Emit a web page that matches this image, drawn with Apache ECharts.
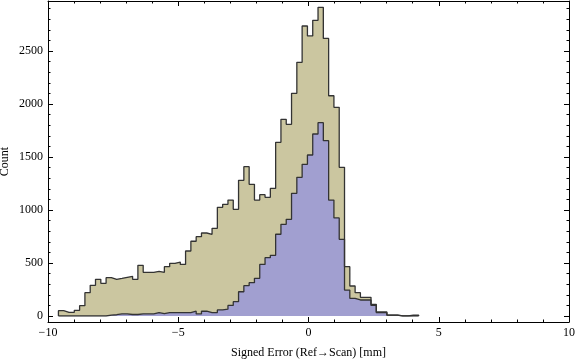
<!DOCTYPE html>
<html>
<head>
<meta charset="UTF-8">
<title>Signed Error histogram</title>
<script src="https://cdn.jsdelivr.net/npm/echarts@6/dist/echarts.min.js"></script>
<style>
  html, body { margin: 0; padding: 0; background: #fff; }
  #chart { width: 576px; height: 362px; }
</style>
</head>
<body>
<div id="chart"></div>
<script>
// 68 equal bins from the smallest to the largest error
var binStart = -9.6;
var binEnd = 4.23;

var tanCounts = [
  50, 35, 35, 54, 97, 220, 289, 346, 308, 362,
  346, 355, 365, 374, 346, 478, 412, 412, 421, 412,
  465, 497, 509, 487, 613, 705, 748, 783, 771, 827,
  1025, 1054, 1094, 1006, 1280, 1409, 1242, 1094, 1145, 1120,
  1204, 1638, 1855, 1808, 2101, 2393, 2736, 2642, 2789, 2912,
  2619, 2078, 1969, 1403, 465, 283, 220, 176, 176, 110,
  38, 38, 9, 9, 2, 2, 7, 7
];
var blueCounts = [
  0, 0, 0, 0, 0, 0, 0, 0, 0, 9,
  12, 20, 20, 14, 14, 20, 20, 20, 32, 22,
  32, 32, 32, 32, 32, 45, 20, 45, 32, 32,
  57, 64, 100, 135, 229, 286, 314, 355, 487, 550,
  572, 771, 865, 912, 1157, 1308, 1431, 1519, 1717, 1824,
  1654, 1094, 925, 723, 245, 167, 151, 151, 151, 100,
  31, 31, 8, 8, 0, 0, 0, 0
];

var xTicks = { min: -10, max: 10, step: 5 };
var yTicks = { min: 0, max: 3000, step: 500 };

function stepPoints(counts) {
  var w = (binEnd - binStart) / counts.length;
  var pts = [[binStart, 0]];
  for (var i = 0; i < counts.length; i++) {
    pts.push([binStart + i * w, counts[i]]);
  }
  pts.push([binEnd, 0]);
  return pts;
}

var font = '"Liberation Serif", "DejaVu Serif", serif';
var black = '#000';
var outline = '#333';

function minus(v) { return String(v).replace('-', '\u2212'); }
function plain(v) { return String(v); }

var tick = { inside: true, length: 5, lineStyle: { color: black } };
var minor = { show: true, splitNumber: 5, length: 2.5, lineStyle: { color: black } };
var frameLine = { show: true, onZero: false, lineStyle: { color: black, width: 1 } };

var myChart = echarts.init(document.getElementById('chart'), null, { renderer: 'canvas' });

var option = {
  animation: false,
  backgroundColor: '#fff',
  grid: [
    // frame
    { left: 48, right: 7, top: 1, bottom: 40, containLabel: false, outerBoundsMode: 'none' },
    // data (0 sits a little above the frame bottom)
    { left: 48, right: 7, top: -2, bottom: 46, containLabel: false, outerBoundsMode: 'none' }
  ],
  xAxis: [
    {
      gridIndex: 0, type: 'value', position: 'bottom',
      min: xTicks.min, max: xTicks.max, interval: xTicks.step,
      name: 'Signed Error (Ref\u2192Scan) [mm]',
      nameLocation: 'middle', nameGap: 25,
      nameTextStyle: { fontFamily: font, fontSize: 12, color: black },
      axisLine: frameLine, axisTick: tick, minorTick: minor,
      axisLabel: { fontFamily: font, fontSize: 12, color: black, margin: 5, formatter: minus },
      splitLine: { show: false }
    },
    {
      gridIndex: 0, type: 'value', position: 'top',
      min: xTicks.min, max: xTicks.max, interval: xTicks.step,
      axisLine: frameLine, axisTick: tick, minorTick: minor,
      axisLabel: { show: false },
      splitLine: { show: false }
    },
    {
      gridIndex: 1, type: 'value', show: false,
      min: xTicks.min, max: xTicks.max,
      axisLine: { show: false, onZero: false }
    }
  ],
  yAxis: [
    {
      gridIndex: 0, type: 'value', position: 'left', min: 0, max: 1,
      name: 'Count', nameLocation: 'middle', nameGap: 37,
      nameTextStyle: { fontFamily: font, fontSize: 12, color: black },
      axisLine: frameLine,
      axisTick: { show: false }, axisLabel: { show: false }, splitLine: { show: false }
    },
    {
      gridIndex: 0, type: 'value', position: 'right', min: 0, max: 1,
      axisLine: frameLine,
      axisTick: { show: false }, axisLabel: { show: false }, splitLine: { show: false }
    },
    {
      gridIndex: 1, type: 'value', position: 'left',
      min: yTicks.min, max: yTicks.max, interval: yTicks.step,
      axisLine: { show: false, onZero: false },
      axisTick: tick, minorTick: minor,
      axisLabel: { fontFamily: font, fontSize: 12, color: black, margin: 5, showMaxLabel: false, formatter: plain },
      splitLine: { show: false }
    },
    {
      gridIndex: 1, type: 'value', position: 'right',
      min: yTicks.min, max: yTicks.max, interval: yTicks.step,
      axisLine: { show: false, onZero: false },
      axisTick: tick, minorTick: minor,
      axisLabel: { show: false },
      splitLine: { show: false }
    }
  ],
  series: [
    {
      name: 'all', type: 'line', step: 'end',
      xAxisIndex: 2, yAxisIndex: 2,
      showSymbol: false, silent: true,
      data: stepPoints(tanCounts),
      lineStyle: { color: outline, width: 1.3 },
      areaStyle: { color: '#cbc6a0', opacity: 1 }
    },
    {
      name: 'subset', type: 'line', step: 'end',
      xAxisIndex: 2, yAxisIndex: 2,
      showSymbol: false, silent: true,
      data: stepPoints(blueCounts),
      lineStyle: { color: outline, width: 1.3 },
      areaStyle: { color: '#a19fd0', opacity: 1 }
    }
  ]
};

myChart.setOption(option);
</script>
</body>
</html>
